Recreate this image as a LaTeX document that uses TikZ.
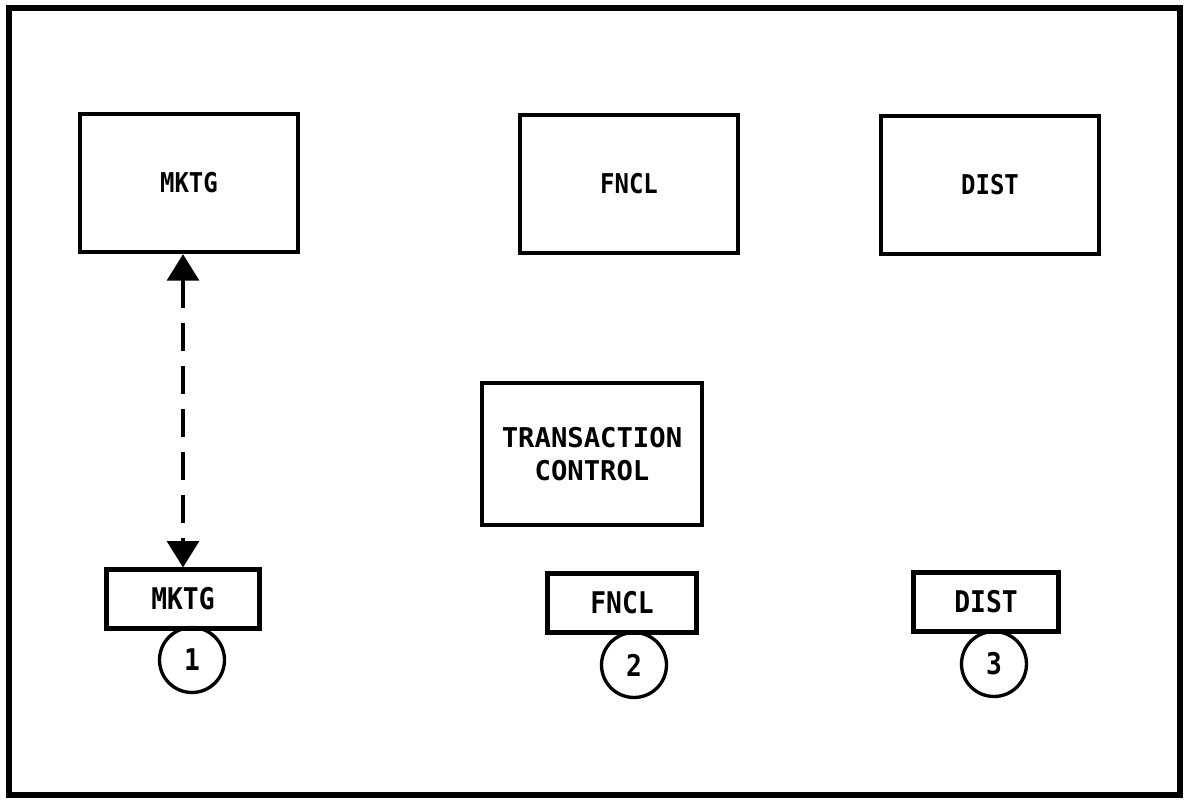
\documentclass[tikz,border=0pt]{standalone}
\usepackage{fontspec}
\newfontfamily\plotfont[FakeStretch=0.88]{DejaVu Sans Mono}
\newfontfamily\plotwide{DejaVu Sans Mono}
\usepackage{tikz}
\usetikzlibrary{arrows.meta}

\begin{document}
\begin{tikzpicture}[x=0.02cm, y=-0.02cm,
	every node/.style={font=\plotfont\bfseries\fontsize{15.5}{18.7}\selectfont},
	bigbox/.style={draw, line width=2.5pt, minimum width=4.36cm, minimum height=2.76cm, align=center},
	smallbox/.style={draw, line width=2.3pt, minimum width=3cm, minimum height=1.18cm, font=\plotfont\bfseries\fontsize{17}{20}\selectfont},
	num/.style={draw, circle, line width=1.9pt, minimum size=1.3cm, inner sep=0pt, font=\plotfont\bfseries\fontsize{17}{20}\selectfont},
	>={Triangle[length=15pt, width=18pt]}]
	\useasboundingbox (0,0) rectangle (1188,800);
	\draw[line width=3.4pt] (9,8) rectangle (1180,795);
	% application areas
	\node[bigbox] (mktg) at (189,183) {MKTG};
	\node[bigbox] (fncl) at (629,184) {FNCL};
	\node[bigbox] (dist) at (990,185) {DIST};
	\node[bigbox, minimum width=4.4cm, minimum height=2.84cm, font=\plotwide\bfseries\fontsize{15.5}{18.7}\selectfont] (tc) at (592,454) {TRANSACTION\\CONTROL};
	% terminals
	\node[smallbox, minimum width=3.06cm] (mktgs) at (183,599) {MKTG};
	\node[smallbox, minimum width=2.98cm] (fncls) at (622,603) {FNCL};
	\node[smallbox, minimum width=2.9cm] (dists) at (986,602) {DIST};
	\node[num] (n1) at (192,660) {1};
	\node[num] (n2) at (634,665) {2};
	\node[num] (n3) at (994,664) {3};
	\draw[<->, line width=2.2pt, dash pattern=on 16pt off 8.5pt] (mktg.south -| mktgs.north) -- (mktgs.north);
\end{tikzpicture}
\end{document}
